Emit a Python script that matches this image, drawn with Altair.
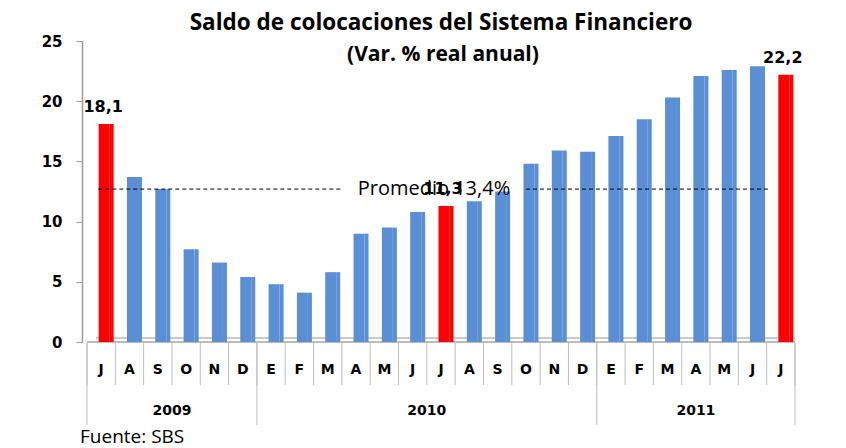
import altair as alt
import pandas as pd

months = ["J", "A", "S", "O", "N", "D",
          "E", "F", "M", "A", "M", "J", "J", "A", "S", "O", "N", "D",
          "E", "F", "M", "A", "M", "J", "J"]
values = [18.1, 13.7, 12.7, 7.7, 6.6, 5.4,
          4.8, 4.1, 5.8, 9.0, 9.5, 10.8, 11.3, 11.7, 12.5, 14.8, 15.9, 15.8,
          17.1, 18.5, 20.3, 22.1, 22.6, 22.9, 22.2]
highlight = [0, 12, 24]
value_labels = ["18,1", "11,3", "22,2"]

years = ["2009", "2010", "2011"]
year_start = [0, 6, 18]
year_end = [6, 18, 25]

avg_level = 12.7
avg_label = "Promedio 13,4%"
avg_seg_start = [0.4, 15.5]
avg_seg_end = [9.0, 24.1]

title_line1 = "Saldo de colocaciones del Sistema Financiero"
title_line2 = "(Var. % real anual)"
source = "Fuente: SBS"

BLUE = "#5a8fd6"
BLUE_DARK = "#3b68a8"
RED = "#ff0000"
RED_DARK = "#c00000"

n = len(months)
df = pd.DataFrame({
    "idx": list(range(n)),
    "mid": [i + 0.5 for i in range(n)],
    "month": months,
    "value": values,
    "hl": [i in highlight for i in range(n)],
})
lab_df = pd.DataFrame({
    "mid": [h + 0.5 for h in highlight],
    "value": [values[h] for h in highlight],
    "label": value_labels,
})
sep_df = pd.DataFrame({"pos": list(range(n + 1))})
year_df = pd.DataFrame({
    "year": years,
    "center": [(s + e) / 2 for s, e in zip(year_start, year_end)],
})
year_sep_df = pd.DataFrame({"pos": sorted(set(year_start + year_end))})
avg_df = pd.DataFrame({"x1": avg_seg_start, "x2": avg_seg_end, "value": [avg_level] * 2})
avg_lab_df = pd.DataFrame({"x": [(avg_seg_end[0] + avg_seg_start[1]) / 2],
                           "value": [avg_level], "label": [avg_label]})
floor_df = pd.DataFrame({"x1": [0], "x2": [n], "value": [0]})

xs = alt.Scale(domain=[0, n], nice=False, zero=False)
ys = alt.Scale(domain=[0, 25], nice=False)

Y_axis = alt.Axis(values=[0, 5, 10, 15, 20, 25], grid=False, title=None,
                  labelFont="DejaVu Sans", labelFontWeight="bold", labelFontSize=15,
                  labelColor="black", domainColor="#9a9a9a", tickColor="#9a9a9a",
                  tickSize=6, labelPadding=14, domainWidth=1.5)


def X(f):
    return alt.X(f, type="quantitative", scale=xs, axis=None)


def Y():
    return alt.Y("value", type="quantitative", scale=ys, axis=Y_axis)


color_enc = alt.Color("hl:N", scale=alt.Scale(domain=[False, True], range=[BLUE, RED]), legend=None)
color_dark = alt.Color("hl:N", scale=alt.Scale(domain=[False, True], range=[BLUE_DARK, RED_DARK]), legend=None)

bars = alt.Chart(df).mark_bar(width=11, xOffset=3).encode(x=X("mid"), y=Y(), color=color_enc)
sides = alt.Chart(df).mark_bar(width=4, xOffset=10.5).encode(x=X("mid"), y=Y(), color=color_dark)

floor_bottom = alt.Chart(floor_df).mark_rule(color="#a6a6a6", strokeWidth=1.5).encode(
    x=X("x1"), x2="x2", y=Y())
floor_top = alt.Chart(floor_df).mark_rule(color="#b8b8b8", strokeWidth=1.5, yOffset=-4, xOffset=9).encode(
    x=X("x1"), x2="x2", y=Y())

month_seps = alt.Chart(sep_df).mark_rule(color="#bdbdbd", strokeWidth=1).encode(
    x=X("pos"), y=alt.value(302), y2=alt.value(344))
year_seps = alt.Chart(year_sep_df).mark_rule(color="#bdbdbd", strokeWidth=1).encode(
    x=X("pos"), y=alt.value(302), y2=alt.value(384))

month_text = alt.Chart(df).mark_text(font="DejaVu Sans", fontWeight="bold", fontSize=14,
                                     color="black", baseline="middle").encode(
    x=X("mid"), y=alt.value(329), text="month:N")
year_text = alt.Chart(year_df).mark_text(font="DejaVu Sans", fontWeight="bold", fontSize=14,
                                         color="black", baseline="middle").encode(
    x=X("center"), y=alt.value(370), text="year:N")

avg_rules = alt.Chart(avg_df).mark_rule(color="black", strokeWidth=1, strokeDash=[4, 3]).encode(
    x=X("x1"), x2="x2", y=Y())
avg_text = alt.Chart(avg_lab_df).mark_text(font="Open Sans", fontSize=20, color="black",
                                           baseline="middle").encode(
    x=X("x"), y=Y(), text="label:N")

val_text = alt.Chart(lab_df).mark_text(font="DejaVu Sans", fontWeight="bold", fontSize=16,
                                       color="black", baseline="alphabetic", dy=-12, dx=2).encode(
    x=X("mid"), y=Y(), text="label:N")

t1_df = pd.DataFrame({"t": [title_line1]})
t2_df = pd.DataFrame({"t": [title_line2]})
title1 = alt.Chart(t1_df).mark_text(font="Open Sans", fontWeight="bold", fontSize=22.5,
                                    color="black", baseline="middle").encode(
    x=alt.value(359), y=alt.value(-18), text="t:N")
title2 = alt.Chart(t2_df).mark_text(font="Open Sans", fontWeight="bold", fontSize=21,
                                    color="black", baseline="middle").encode(
    x=alt.value(361), y=alt.value(14), text="t:N")

src_df = pd.DataFrame({"t": [source]})
src_text = alt.Chart(src_df).mark_text(font="Open Sans", fontSize=19, color="black",
                                       align="left", baseline="middle").encode(
    x=alt.value(-2), y=alt.value(396), text="t:N")

chart = alt.layer(
    floor_top, floor_bottom, month_seps, year_seps, bars, sides, avg_rules, avg_text,
    val_text, month_text, year_text, title1, title2, src_text
).properties(
    width=718, height=301,
    padding={"left": 82, "top": 41, "right": 46, "bottom": 106},
    autosize=alt.AutoSizeParams(type="none"),
    background="white",
).configure_view(stroke=None)

chart.save("out.html", embed_options={"renderer": "svg", "actions": False})
